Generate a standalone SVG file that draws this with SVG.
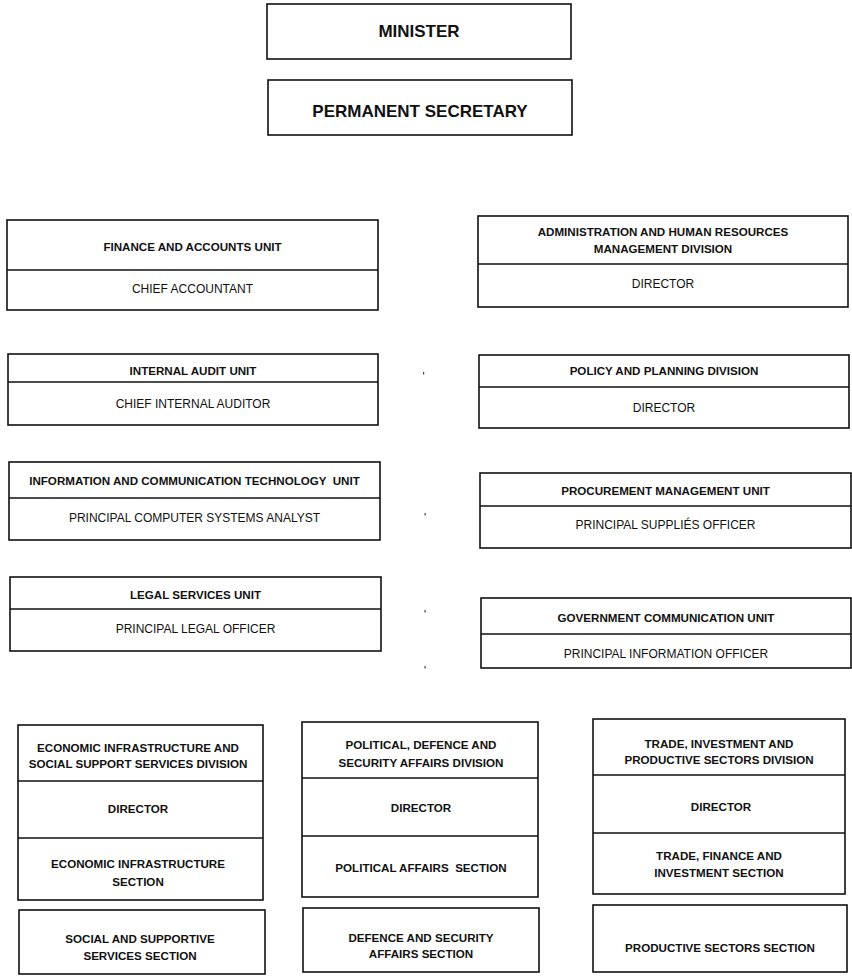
<svg xmlns="http://www.w3.org/2000/svg" width="852" height="978" viewBox="0 0 852 978">
<style>
  .box { fill: #ffffff; stroke: #111111; stroke-width: 1.6; }
  .div { stroke: #111111; stroke-width: 1.6; }
  text { font-family: "Liberation Sans", Arial, sans-serif; fill: #111111; text-anchor: middle; }
  .big { font-size: 17px; font-weight: bold; }
  .t { font-size: 11.6px; font-weight: bold; }
  .r { font-size: 12px; }
  .speck { fill: #444444; }
</style>
<rect x="0" y="0" width="852" height="978" fill="#ffffff"/>

<g id="minister">
  <rect class="box" x="267" y="4" width="304" height="55"/>
  <text class="big" x="419" y="37">MINISTER</text>
</g>
<g id="permanent-secretary">
  <rect class="box" x="268" y="80" width="304" height="55"/>
  <text class="big" x="420" y="117">PERMANENT SECRETARY</text>
</g>

<g id="finance">
  <rect class="box" x="7" y="220" width="371" height="90"/>
  <line class="div" x1="7" y1="270" x2="378" y2="270"/>
  <text class="t" x="192.5" y="251">FINANCE AND ACCOUNTS UNIT</text>
  <text class="r" x="192.5" y="293">CHIEF ACCOUNTANT</text>
</g>
<g id="admin-hr">
  <rect class="box" x="478" y="216" width="370" height="91"/>
  <line class="div" x1="478" y1="264" x2="848" y2="264"/>
  <text class="t" x="663" y="236">ADMINISTRATION AND HUMAN RESOURCES</text>
  <text class="t" x="663" y="253">MANAGEMENT DIVISION</text>
  <text class="r" x="663" y="288">DIRECTOR</text>
</g>

<g id="internal-audit">
  <rect class="box" x="8" y="354" width="370" height="71"/>
  <line class="div" x1="8" y1="382" x2="378" y2="382"/>
  <text class="t" x="193" y="375">INTERNAL AUDIT UNIT</text>
  <text class="r" x="193" y="408">CHIEF INTERNAL AUDITOR</text>
</g>
<g id="policy-planning">
  <rect class="box" x="479" y="355" width="370" height="73"/>
  <line class="div" x1="479" y1="387" x2="849" y2="387"/>
  <text class="t" x="664" y="375">POLICY AND PLANNING DIVISION</text>
  <text class="r" x="664" y="412">DIRECTOR</text>
</g>

<g id="ict">
  <rect class="box" x="9" y="462" width="371" height="78"/>
  <line class="div" x1="9" y1="498" x2="380" y2="498"/>
  <text class="t" x="194.5" y="485" xml:space="preserve">INFORMATION AND COMMUNICATION TECHNOLOGY  UNIT</text>
  <text class="r" x="194.5" y="522">PRINCIPAL COMPUTER SYSTEMS ANALYST</text>
</g>
<g id="procurement">
  <rect class="box" x="480" y="473" width="371" height="75"/>
  <line class="div" x1="480" y1="506" x2="851" y2="506"/>
  <text class="t" x="665.5" y="495">PROCUREMENT MANAGEMENT UNIT</text>
  <text class="r" x="665.5" y="529">PRINCIPAL SUPPLIÉS OFFICER</text>
</g>

<g id="legal">
  <rect class="box" x="10" y="577" width="371" height="74"/>
  <line class="div" x1="10" y1="609" x2="381" y2="609"/>
  <text class="t" x="195.5" y="599">LEGAL SERVICES UNIT</text>
  <text class="r" x="195.5" y="633">PRINCIPAL LEGAL OFFICER</text>
</g>
<g id="gov-communication">
  <rect class="box" x="481" y="598" width="370" height="70"/>
  <line class="div" x1="481" y1="634" x2="851" y2="634"/>
  <text class="t" x="666" y="622">GOVERNMENT COMMUNICATION UNIT</text>
  <text class="r" x="666" y="658">PRINCIPAL INFORMATION OFFICER</text>
</g>

<g id="economic-division">
  <rect class="box" x="18" y="725" width="245" height="175"/>
  <line class="div" x1="18" y1="781" x2="263" y2="781"/>
  <line class="div" x1="18" y1="838" x2="263" y2="838"/>
  <text class="t" x="138" y="752">ECONOMIC INFRASTRUCTURE AND</text>
  <text class="t" x="138" y="768">SOCIAL SUPPORT SERVICES DIVISION</text>
  <text class="t" x="138" y="813">DIRECTOR</text>
  <text class="t" x="138" y="868">ECONOMIC INFRASTRUCTURE</text>
  <text class="t" x="138" y="886">SECTION</text>
</g>
<g id="social-section">
  <rect class="box" x="19" y="910" width="246" height="64"/>
  <text class="t" x="140" y="943">SOCIAL AND SUPPORTIVE</text>
  <text class="t" x="140" y="960">SERVICES SECTION</text>
</g>

<g id="political-division">
  <rect class="box" x="302" y="722" width="236" height="175"/>
  <line class="div" x1="302" y1="778" x2="538" y2="778"/>
  <line class="div" x1="302" y1="836" x2="538" y2="836"/>
  <text class="t" x="421" y="749">POLITICAL, DEFENCE AND</text>
  <text class="t" x="421" y="767">SECURITY AFFAIRS DIVISION</text>
  <text class="t" x="421" y="812">DIRECTOR</text>
  <text class="t" x="421" y="872" xml:space="preserve">POLITICAL AFFAIRS  SECTION</text>
</g>
<g id="defence-section">
  <rect class="box" x="303" y="908" width="236" height="64"/>
  <text class="t" x="421" y="942">DEFENCE AND SECURITY</text>
  <text class="t" x="421" y="958">AFFAIRS SECTION</text>
</g>

<g id="trade-division">
  <rect class="box" x="593" y="719" width="252" height="175"/>
  <line class="div" x1="593" y1="775" x2="845" y2="775"/>
  <line class="div" x1="593" y1="833" x2="845" y2="833"/>
  <text class="t" x="719" y="748">TRADE, INVESTMENT AND</text>
  <text class="t" x="719" y="764">PRODUCTIVE SECTORS DIVISION</text>
  <text class="t" x="721" y="811">DIRECTOR</text>
  <text class="t" x="719" y="860">TRADE, FINANCE AND</text>
  <text class="t" x="719" y="877">INVESTMENT SECTION</text>
</g>
<g id="productive-section">
  <rect class="box" x="593" y="905" width="254" height="67"/>
  <text class="t" x="720" y="952">PRODUCTIVE SECTORS SECTION</text>
</g>

<g id="connectors"></g>

<g id="specks">
  <rect class="speck" x="423" y="372" width="1.2" height="2.5"/>
  <rect class="speck" x="424.5" y="513" width="1.2" height="2.5"/>
  <rect class="speck" x="424.5" y="610" width="1.2" height="2.5"/>
  <rect class="speck" x="424.5" y="666" width="1.2" height="2.5"/>
</g>
</svg>
